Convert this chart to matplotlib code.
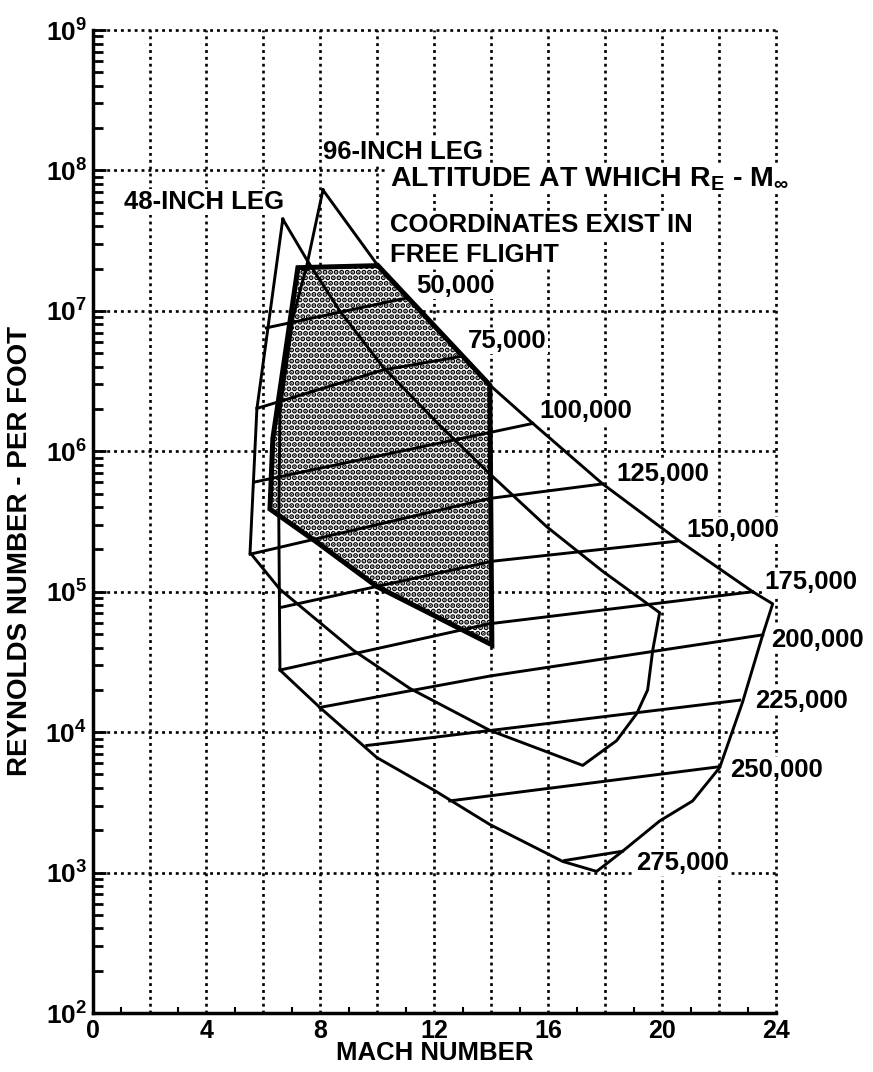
import numpy as np
import matplotlib
matplotlib.use("Agg")
from matplotlib import pyplot as plt
from matplotlib.ticker import FixedLocator, LogLocator, MultipleLocator, NullFormatter

plt.rcParams['font.family'] = ['Liberation Sans', 'DejaVu Sans']
plt.rcParams['font.weight'] = 'bold'
plt.rcParams['mathtext.fontset'] = 'custom'
plt.rcParams['mathtext.rm'] = 'Liberation Sans:bold'
plt.rcParams['mathtext.bf'] = 'Liberation Sans:bold'
plt.rcParams['mathtext.it'] = 'Liberation Sans:bold'
plt.rcParams['hatch.linewidth'] = 2.6

# 48-inch leg envelope (Mach, Reynolds number per foot)
leg48_mach = [6.68, 7.53, 8.68, 10.19, 12.19, 13.95, 15.95, 17.91, 19.91,
              19.67, 19.49, 19.11, 18.40, 17.21,
              13.95, 11.14, 9.14, 6.58, 5.53, 5.77, 6.68]
leg48_re = [4.5e7, 2.3e7, 1.0e7, 4.0e6, 1.53e6, 6.9e5, 2.9e5, 1.4e5, 7.1e4,
            3.85e4, 2.0e4, 1.36e4, 8.7e3, 5.8e3,
            1.03e4, 2.05e4, 3.85e4, 1.04e5, 1.9e5, 2.0e6, 4.5e7]

# 96-inch leg envelope
leg96_mach = [8.09, 10.02, 13.95, 15.46, 17.91, 20.51, 23.18, 23.88,
              23.53, 22.82, 22.02, 21.07, 19.91, 18.61, 17.70, 16.51, 15.95,
              13.95, 12.02, 9.98, 7.98, 6.58, 6.54, 6.58, 7.04, 7.53, 8.09]
leg96_re = [7.26e7, 2.1e7, 2.96e6, 1.58e6, 5.86e5, 2.37e5, 1.0e5, 8.2e4,
            4.93e4, 1.63e4, 5.6e3, 3.24e3, 2.33e3, 1.42e3, 1.02e3, 1.2e3, 1.37e3,
            2.2e3, 3.83e3, 6.6e3, 1.5e4, 2.77e4, 3.3e5, 1.93e6, 8.95e6, 2.14e7, 7.26e7]

# shaded region
shade_mach = [7.21, 10.02, 13.95, 14.02, 9.98, 7.88, 6.23, 6.33, 7.21]
shade_re = [2.03e7, 2.1e7, 2.96e6, 4.19e4, 1.09e5, 2.25e5, 3.88e5, 1.23e6, 2.03e7]

# constant-altitude lines (ft)
altitudes = ['50,000', '75,000', '100,000', '125,000', '150,000',
             '175,000', '200,000', '225,000', '250,000', '275,000']
alt_mach = [[6.1, 11.07], [5.77, 10.19, 13.00], [5.70, 15.46],
            [5.53, 13.95, 17.91], [6.58, 14.05, 20.51], [6.58, 13.95, 23.18],
            [7.98, 13.95, 23.53], [9.63, 22.72], [12.54, 22.02], [16.58, 18.61]]
alt_re = [[7.57e6, 1.24e7], [2.02e6, 3.79e6, 4.76e6], [6.05e5, 1.58e6],
          [1.85e5, 4.62e5, 5.86e5], [7.71e4, 1.65e5, 2.29e5], [2.77e4, 5.92e4, 1.0e5],
          [1.5e4, 2.51e4, 4.93e4], [8.04e3, 1.69e4], [3.24e3, 5.68e3], [1.22e3, 1.42e3]]
alt_label_mach = [11.35, 13.18, 15.7, 18.4, 20.86, 23.6, 23.84, 23.25, 22.37, 19.1]
alt_label_re = [1.51e7, 6.1e6, 1.95e6, 6.9e5, 2.75e5, 1.17e5, 4.57e4, 1.66e4, 5.37e3, 1.17e3]

x_ticks = [0, 4, 8, 12, 16, 20, 24]
y_ticks = [1e2, 1e3, 1e4, 1e5, 1e6, 1e7, 1e8, 1e9]

fig = plt.figure(figsize=(8.73, 10.72), dpi=100)
ax = fig.add_axes([0.106, 0.055, 0.783, 0.917])
ax.set_yscale('log')
ax.set_xlim(0, 24)
ax.set_ylim(1e2, 1e9)

ax.fill(shade_mach, shade_re, facecolor='white', edgecolor='black',
        hatch='...', linewidth=3.6, zorder=2)
ax.plot(leg48_mach, leg48_re, color='black', lw=2.1, zorder=3)
ax.plot(leg96_mach, leg96_re, color='black', lw=2.1, zorder=3)
for m, r in zip(alt_mach, alt_re):
    ax.plot(m, r, color='black', lw=2.1, zorder=3)

box = dict(facecolor='white', edgecolor='none', pad=1)
fs = 18.5
for name, m, r in zip(altitudes, alt_label_mach, alt_label_re):
    ax.text(m, r, name, fontsize=fs, fontweight='bold', va='center', ha='left',
            clip_on=False, zorder=5, bbox=box)

ax.text(1.1, 5.96e7, '48-INCH LEG', fontsize=fs, fontweight='bold', va='center', bbox=box, zorder=5)
ax.text(8.09, 1.35e8, '96-INCH LEG', fontsize=fs, fontweight='bold', va='center', bbox=box, zorder=5)
ax.text(10.44, 8.7e7, r'ALTITUDE AT WHICH R$_{\mathbf{E}}$ - M$_{\mathbf{\infty}}$',
        fontsize=20.5, fontweight='bold', va='center', clip_on=False, bbox=box, zorder=5)
ax.text(10.44, 4.07e7, 'COORDINATES EXIST IN', fontsize=fs, fontweight='bold', va='center',
        bbox=box, zorder=5)
ax.text(10.44, 2.51e7, 'FREE FLIGHT', fontsize=fs, fontweight='bold', va='center',
        bbox=box, zorder=5)

# grid and axes
ax.set_xticks(np.arange(0, 25, 2))
ax.set_xticklabels([str(v) if v in x_ticks else '' for v in range(0, 25, 2)])
ax.xaxis.set_minor_locator(MultipleLocator(1))
ax.yaxis.set_major_locator(FixedLocator(y_ticks))
ax.yaxis.set_minor_locator(LogLocator(base=10, subs=np.arange(2, 10)))
ax.yaxis.set_minor_formatter(NullFormatter())
ax.set_yticklabels([r'$\mathbf{10^{%d}}$' % int(np.log10(v)) for v in y_ticks])

ax.grid(True, which='major', color='black', linestyle=(0, (1.1, 1.5)), linewidth=1.9)
for gl in ax.get_xgridlines() + ax.get_ygridlines():
    gl.set_clip_on(False)
ax.set_axisbelow(True)

for side in ['top', 'right']:
    ax.spines[side].set_visible(False)
for side in ['left', 'bottom']:
    ax.spines[side].set_linewidth(2.5)

ax.tick_params(axis='x', which='major', direction='in', length=0, labelsize=18, pad=4)
ax.tick_params(axis='x', which='minor', direction='in', length=4, width=1.5)
ax.tick_params(axis='y', which='major', direction='in', length=9, width=2, labelsize=19, pad=4)
ax.tick_params(axis='y', which='minor', direction='in', length=7, width=2)

ax.set_xlabel('MACH NUMBER', fontsize=18.5, fontweight='bold')
ax.xaxis.set_label_coords(0.5, -0.028)
ax.set_ylabel('REYNOLDS NUMBER - PER FOOT', fontsize=20, fontweight='bold')
ax.yaxis.set_label_coords(-0.087, 0.47)

fig.savefig('out.png', dpi=100)
